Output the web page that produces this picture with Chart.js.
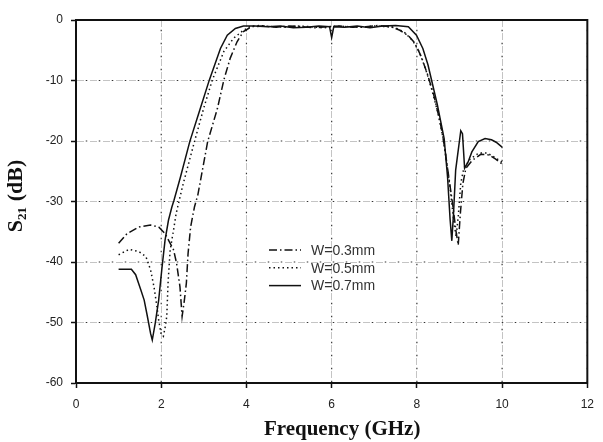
<!DOCTYPE html>
<html>
<head>
<meta charset="utf-8">
<script src="https://cdn.jsdelivr.net/npm/chart.js@4.4.1/dist/chart.umd.min.js"></script>
<style>
  html, body { margin: 0; padding: 0; background: #fff; }
  #wrap { width: 603px; height: 442px; }
</style>
</head>
<body>
<div id="wrap"><canvas id="c" width="603" height="442"></canvas></div>
<script>
// Transmission S21 versus frequency for three strip widths W

const seriesLabels = ['W=0.3mm', 'W=0.5mm', 'W=0.7mm'];

// W = 0.3 mm (dash-dot)
const freqW03 = [1.0, 1.2, 1.48, 1.75, 1.94, 2.09, 2.29, 2.36, 2.44, 2.49, 2.54, 2.59, 2.63, 2.69, 2.78, 2.86, 3.09, 3.32, 3.47, 3.62, 3.78, 3.93, 4.12,
  4.4, 4.7, 5.0, 5.3, 5.6, 5.9, 6.2, 6.5, 6.8, 7.1, 7.4, 7.6, 7.8, 7.95, 8.1, 8.25, 8.4, 8.55, 8.65, 8.75, 8.85, 8.92, 8.97,
  9.02, 9.08, 9.15, 9.3, 9.5, 9.7, 9.85, 10.0];
const s21W03 = [-36.9, -35.3, -34.2, -33.9, -34.2, -35.3, -38.0, -40.2, -44.1, -49.0, -46.5, -43.5, -38.6, -34.2, -30.9, -28.9, -20.1, -14.6, -9.9, -6.3, -3.6, -1.9, -1.1,
  -1.0, -1.2, -1.0, -1.1, -1.3, -1.1, -1.0, -1.2, -1.1, -0.9, -1.1, -1.7, -2.6, -3.8, -6.0, -9.0, -12.5, -17.0, -21.0, -26.0, -31.0, -35.0, -37.2,
  -32.0, -27.0, -24.5, -23.2, -22.2, -22.3, -23.0, -23.8];

// W = 0.5 mm (dotted)
const freqW05 = [1.0, 1.25, 1.48, 1.64, 1.75, 1.83, 1.9, 1.94, 2.0, 2.05, 2.1, 2.13, 2.16, 2.21, 2.29, 2.35, 2.5, 2.78, 3.0, 3.2, 3.47, 3.7, 3.93, 4.08,
  4.3, 4.6, 4.9, 5.2, 5.5, 5.8, 6.1, 6.4, 6.7, 7.0, 7.3, 7.5, 7.7, 7.9, 8.05, 8.2, 8.35, 8.5, 8.6, 8.7, 8.8, 8.87, 8.92,
  8.97, 9.03, 9.1, 9.25, 9.45, 9.65, 9.85, 10.0];
const s21W05 = [-38.8, -37.9, -38.3, -39.1, -41.3, -44.1, -47.4, -49.6, -52.0, -52.3, -50.5, -49.0, -43.5, -38.0, -34.7, -32.0, -27.5, -20.1, -14.5, -9.9, -5.2, -3.0, -1.7, -1.1,
  -0.9, -1.1, -1.2, -1.0, -1.1, -1.3, -1.0, -1.1, -1.2, -1.0, -1.1, -1.3, -2.0, -3.4, -5.2, -8.0, -11.5, -15.5, -19.0, -23.5, -29.0, -33.5, -35.8,
  -32.5, -27.0, -24.5, -23.0, -22.0, -22.0, -22.8, -23.5];

// W = 0.7 mm (solid)
const freqW07 = [1.0, 1.3, 1.4, 1.52, 1.6, 1.67, 1.75, 1.79, 1.86, 1.94, 2.02, 2.09, 2.17, 2.25, 2.3, 2.45, 2.67, 2.9, 3.13, 3.39, 3.55, 3.74, 3.93,
  4.2, 4.5, 4.8, 5.1, 5.4, 5.7, 5.95, 6.0, 6.05, 6.3, 6.6, 6.9, 7.2, 7.5, 7.8, 7.99, 8.14, 8.26, 8.37, 8.48, 8.56, 8.64,
  8.72, 8.78, 8.82, 8.86, 8.91, 8.98, 9.03, 9.07, 9.12, 9.2, 9.29, 9.44, 9.6, 9.75, 9.86, 10.0];
const s21W07 = [-41.2, -41.2, -42.1, -44.6, -46.3, -48.8, -51.8, -52.9, -50.1, -46.3, -40.8, -36.4, -33.1, -30.9, -29.8, -26.0, -20.1, -15.0, -9.9, -4.7, -2.5, -1.4, -1.0,
  -1.0, -1.1, -1.0, -1.3, -1.2, -1.0, -1.1, -2.9, -1.1, -1.2, -1.0, -1.3, -1.0, -0.9, -1.1, -2.5, -4.7, -7.4, -10.7, -14.0, -16.8, -19.6,
  -26.0, -33.0, -36.5, -32.0, -24.8, -21.0, -18.3, -18.8, -24.5, -23.5, -21.8, -20.1, -19.6, -19.8, -20.2, -21.0];

const xTicks = [0, 2, 4, 6, 8, 10, 12];
const yTicks = [0, -10, -20, -30, -40, -50, -60];

const toPoints = (xs, ys) => xs.map((x, i) => ({ x: x, y: ys[i] }));

// dash-dot grid: light grey dashes with a small dark dot in each gap
const gridDots = {
  id: 'gridDots',
  beforeDatasetsDraw(chart) {
    const { ctx, chartArea: a, scales: { x, y } } = chart;
    ctx.save();
    ctx.strokeStyle = '#333';
    ctx.lineWidth = 1.2;
    ctx.setLineDash([1.5, 11.5]);
    ctx.lineDashOffset = -9.75;
    x.ticks.forEach(t => {
      const px = x.getPixelForValue(t.value);
      ctx.beginPath(); ctx.moveTo(px, a.top); ctx.lineTo(px, a.bottom); ctx.stroke();
    });
    y.ticks.forEach(t => {
      const py = y.getPixelForValue(t.value);
      ctx.beginPath(); ctx.moveTo(a.left, py); ctx.lineTo(a.right, py); ctx.stroke();
    });
    ctx.restore();
  }
};

// closed frame round the plot area
const frame = {
  id: 'frame',
  afterDatasetsDraw(chart) {
    const { ctx, chartArea: a } = chart;
    ctx.save();
    ctx.strokeStyle = '#111';
    ctx.lineWidth = 2;
    ctx.setLineDash([]);
    ctx.strokeRect(a.left, a.top, a.right - a.left, a.bottom - a.top);
    ctx.restore();
  }
};

// legend box inside the plot area
const innerLegend = {
  id: 'innerLegend',
  afterDraw(chart) {
    const { ctx, chartArea: a } = chart;
    const x0 = a.left + 193, len = 32, y0 = a.top + 230, step = 17.8;
    ctx.save();
    ctx.font = '14px "Liberation Sans", Arial, sans-serif';
    ctx.textBaseline = 'middle';
    chart.data.datasets.forEach((ds, i) => {
      const yy = y0 + i * step;
      ctx.strokeStyle = ds.borderColor;
      ctx.lineWidth = ds.borderWidth;
      ctx.setLineDash(ds.borderDash || []);
      ctx.beginPath(); ctx.moveTo(x0, yy); ctx.lineTo(x0 + len, yy); ctx.stroke();
      ctx.setLineDash([]);
      ctx.fillStyle = '#333';
      ctx.fillText(ds.label, x0 + len + 10, yy + 1);
    });
    ctx.restore();
  }
};

const baseLine = { fill: false, pointRadius: 0, tension: 0, borderColor: '#111', borderCapStyle: 'butt' };

new Chart(document.getElementById('c'), {
  type: 'line',
  data: {
    datasets: [
      Object.assign({ label: seriesLabels[0], data: toPoints(freqW03, s21W03), borderWidth: 1.5, borderDash: [8, 3, 1.5, 3] }, baseLine),
      Object.assign({ label: seriesLabels[1], data: toPoints(freqW05, s21W05), borderWidth: 1.5, borderDash: [1.5, 3] }, baseLine),
      Object.assign({ label: seriesLabels[2], data: toPoints(freqW07, s21W07), borderWidth: 1.5 }, baseLine)
    ]
  },
  options: {
    responsive: false,
    animation: false,
    layout: { padding: { top: 20, right: 5, left: 0, bottom: 0 } },
    plugins: { legend: { display: false }, tooltip: { enabled: false } },
    scales: {
      x: {
        type: 'linear', min: 0, max: 12,
        afterBuildTicks: s => { s.ticks = xTicks.map(v => ({ value: v })); },
        afterFit: s => { s.height = 59; },
        grid: { color: '#c4c4c4', lineWidth: 1, tickLength: 5, tickColor: '#111', tickWidth: 1.5, tickBorderDash: [] },
        border: { display: true, color: '#111', width: 2, dash: [7, 6] },
        ticks: { color: '#222', padding: 9, font: { family: '"Liberation Sans", Arial, sans-serif', size: 12 }, maxRotation: 0 },
        title: { display: true, text: '\u2003Frequency (GHz)', color: '#111', padding: { top: 0, bottom: 0 },
                 font: { family: '"Liberation Serif", "Times New Roman", serif', size: 21, weight: 'bold' } }
      },
      y: {
        type: 'linear', min: -60, max: 0,
        afterBuildTicks: s => { s.ticks = yTicks.map(v => ({ value: v })); },
        afterFit: s => { s.width = 76; },
        grid: { color: '#c4c4c4', lineWidth: 1, tickLength: 5, tickColor: '#111', tickWidth: 1.5, tickBorderDash: [] },
        border: { display: true, color: '#111', width: 2, dash: [7, 6] },
        ticks: { color: '#222', padding: 8, font: { family: '"Liberation Sans", Arial, sans-serif', size: 12 } },
        title: { display: true, text: '\u2002S\u2082\u2081 (dB)', color: '#111', padding: { top: 3, bottom: 0 },
                 font: { family: '"Liberation Serif", "DejaVu Serif", serif', size: 22, weight: 'bold' } }
      }
    }
  },
  plugins: [gridDots, frame, innerLegend]
});
</script>
</body>
</html>
